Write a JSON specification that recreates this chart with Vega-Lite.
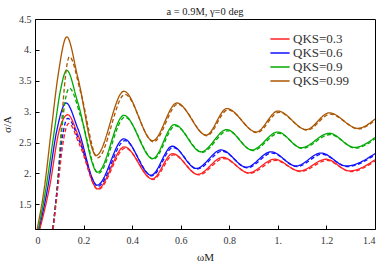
{
  "$schema": "https://vega.github.io/schema/vega-lite/v6.json",
  "width": 340,
  "height": 210,
  "autosize": {"type": "none"},
  "padding": {"left": 35, "top": 19, "right": 7, "bottom": 35},
  "title": {"text": "a = 0.9M, γ=0 deg", "font": "'Liberation Serif', 'Times New Roman', 'DejaVu Serif', serif", "fontSize": 10.5, "fontWeight": "normal", "color": "#222", "offset": -3, "anchor": "middle"},
  "config": {"view": {"stroke": "black", "strokeWidth": 1}, "font": "'Liberation Serif', 'Times New Roman', 'DejaVu Serif', serif"},
  "data": {"values": [
    {"w":0.009,"s":1.1,"q":"0.99","t":"solid"},{"w":0.039,"s":1.78,"q":"0.99","t":"solid"},{"w":0.067,"s":2.70,"q":"0.99","t":"solid"},{"w":0.094,"s":3.56,"q":"0.99","t":"solid"},{"w":0.131,"s":4.21,"q":"0.99","t":"solid"},{"w":0.176,"s":3.56,"q":"0.99","t":"solid"},{"w":0.252,"s":2.29,"q":"0.99","t":"solid"},{"w":0.366,"s":3.33,"q":"0.99","t":"solid"},{"w":0.485,"s":2.53,"q":"0.99","t":"solid"},{"w":0.584,"s":3.14,"q":"0.99","t":"solid"},{"w":0.705,"s":2.62,"q":"0.99","t":"solid"},{"w":0.79,"s":3.05,"q":"0.99","t":"solid"},{"w":0.911,"s":2.67,"q":"0.99","t":"solid"},{"w":1.0,"s":3.01,"q":"0.99","t":"solid"},{"w":1.117,"s":2.71,"q":"0.99","t":"solid"},{"w":1.212,"s":2.98,"q":"0.99","t":"solid"},{"w":1.329,"s":2.73,"q":"0.99","t":"solid"},{"w":1.4,"s":2.88,"q":"0.99","t":"solid"},
    {"w":0.014,"s":1.1,"q":"0.9","t":"solid"},{"w":0.046,"s":1.78,"q":"0.9","t":"solid"},{"w":0.08,"s":2.70,"q":"0.9","t":"solid"},{"w":0.105,"s":3.35,"q":"0.9","t":"solid"},{"w":0.131,"s":3.67,"q":"0.9","t":"solid"},{"w":0.176,"s":3.15,"q":"0.9","t":"solid"},{"w":0.258,"s":2.02,"q":"0.9","t":"solid"},{"w":0.366,"s":2.94,"q":"0.9","t":"solid"},{"w":0.485,"s":2.24,"q":"0.9","t":"solid"},{"w":0.574,"s":2.79,"q":"0.9","t":"solid"},{"w":0.684,"s":2.35,"q":"0.9","t":"solid"},{"w":0.79,"s":2.71,"q":"0.9","t":"solid"},{"w":0.893,"s":2.38,"q":"0.9","t":"solid"},{"w":1.0,"s":2.67,"q":"0.9","t":"solid"},{"w":1.096,"s":2.415,"q":"0.9","t":"solid"},{"w":1.212,"s":2.65,"q":"0.9","t":"solid"},{"w":1.315,"s":2.42,"q":"0.9","t":"solid"},{"w":1.4,"s":2.58,"q":"0.9","t":"solid"},
    {"w":0.018,"s":1.1,"q":"0.6","t":"solid"},{"w":0.053,"s":1.78,"q":"0.6","t":"solid"},{"w":0.09,"s":2.7,"q":"0.6","t":"solid"},{"w":0.128,"s":3.14,"q":"0.6","t":"solid"},{"w":0.176,"s":2.73,"q":"0.6","t":"solid"},{"w":0.256,"s":1.81,"q":"0.6","t":"solid"},{"w":0.366,"s":2.56,"q":"0.6","t":"solid"},{"w":0.478,"s":1.97,"q":"0.6","t":"solid"},{"w":0.565,"s":2.44,"q":"0.6","t":"solid"},{"w":0.664,"s":2.08,"q":"0.6","t":"solid"},{"w":0.767,"s":2.38,"q":"0.6","t":"solid"},{"w":0.87,"s":2.10,"q":"0.6","t":"solid"},{"w":0.972,"s":2.35,"q":"0.6","t":"solid"},{"w":1.075,"s":2.12,"q":"0.6","t":"solid"},{"w":1.178,"s":2.33,"q":"0.6","t":"solid"},{"w":1.281,"s":2.12,"q":"0.6","t":"solid"},{"w":1.4,"s":2.32,"q":"0.6","t":"solid"},
    {"w":0.02,"s":1.1,"q":"0.3","t":"solid"},{"w":0.06,"s":1.78,"q":"0.3","t":"solid"},{"w":0.1,"s":2.7,"q":"0.3","t":"solid"},{"w":0.135,"s":2.95,"q":"0.3","t":"solid"},{"w":0.18,"s":2.59,"q":"0.3","t":"solid"},{"w":0.258,"s":1.75,"q":"0.3","t":"solid"},{"w":0.368,"s":2.43,"q":"0.3","t":"solid"},{"w":0.483,"s":1.91,"q":"0.3","t":"solid"},{"w":0.567,"s":2.32,"q":"0.3","t":"solid"},{"w":0.67,"s":1.985,"q":"0.3","t":"solid"},{"w":0.773,"s":2.26,"q":"0.3","t":"solid"},{"w":0.88,"s":2.01,"q":"0.3","t":"solid"},{"w":0.986,"s":2.23,"q":"0.3","t":"solid"},{"w":1.089,"s":2.04,"q":"0.3","t":"solid"},{"w":1.199,"s":2.23,"q":"0.3","t":"solid"},{"w":1.295,"s":2.04,"q":"0.3","t":"solid"},{"w":1.4,"s":2.22,"q":"0.3","t":"solid"},
    {"w":0.073,"s":1.1,"q":"0.99","t":"dashed"},{"w":0.094,"s":1.89,"q":"0.99","t":"dashed"},{"w":0.108,"s":2.7,"q":"0.99","t":"dashed"},{"w":0.121,"s":3.4,"q":"0.99","t":"dashed"},{"w":0.142,"s":3.89,"q":"0.99","t":"dashed"},{"w":0.19,"s":3.28,"q":"0.99","t":"dashed"},{"w":0.258,"s":2.25,"q":"0.99","t":"dashed"},{"w":0.37,"s":3.28,"q":"0.99","t":"dashed"},{"w":0.488,"s":2.51,"q":"0.99","t":"dashed"},{"w":0.588,"s":3.12,"q":"0.99","t":"dashed"},{"w":0.708,"s":2.61,"q":"0.99","t":"dashed"},{"w":0.794,"s":3.03,"q":"0.99","t":"dashed"},{"w":0.914,"s":2.66,"q":"0.99","t":"dashed"},{"w":1.004,"s":2.99,"q":"0.99","t":"dashed"},{"w":1.12,"s":2.70,"q":"0.99","t":"dashed"},{"w":1.216,"s":2.96,"q":"0.99","t":"dashed"},{"w":1.332,"s":2.72,"q":"0.99","t":"dashed"},{"w":1.4,"s":2.86,"q":"0.99","t":"dashed"},
    {"w":0.073,"s":1.1,"q":"0.9","t":"dashed"},{"w":0.094,"s":1.89,"q":"0.9","t":"dashed"},{"w":0.108,"s":2.6,"q":"0.9","t":"dashed"},{"w":0.122,"s":3.12,"q":"0.9","t":"dashed"},{"w":0.142,"s":3.38,"q":"0.9","t":"dashed"},{"w":0.19,"s":2.9,"q":"0.9","t":"dashed"},{"w":0.261,"s":2.0,"q":"0.9","t":"dashed"},{"w":0.37,"s":2.91,"q":"0.9","t":"dashed"},{"w":0.488,"s":2.23,"q":"0.9","t":"dashed"},{"w":0.578,"s":2.77,"q":"0.9","t":"dashed"},{"w":0.688,"s":2.34,"q":"0.9","t":"dashed"},{"w":0.794,"s":2.69,"q":"0.9","t":"dashed"},{"w":0.897,"s":2.37,"q":"0.9","t":"dashed"},{"w":1.004,"s":2.65,"q":"0.9","t":"dashed"},{"w":1.1,"s":2.405,"q":"0.9","t":"dashed"},{"w":1.216,"s":2.63,"q":"0.9","t":"dashed"},{"w":1.319,"s":2.41,"q":"0.9","t":"dashed"},{"w":1.4,"s":2.56,"q":"0.9","t":"dashed"},
    {"w":0.074,"s":1.1,"q":"0.6","t":"dashed"},{"w":0.094,"s":1.85,"q":"0.6","t":"dashed"},{"w":0.11,"s":2.5,"q":"0.6","t":"dashed"},{"w":0.135,"s":2.89,"q":"0.6","t":"dashed"},{"w":0.185,"s":2.5,"q":"0.6","t":"dashed"},{"w":0.259,"s":1.79,"q":"0.6","t":"dashed"},{"w":0.37,"s":2.53,"q":"0.6","t":"dashed"},{"w":0.481,"s":1.96,"q":"0.6","t":"dashed"},{"w":0.569,"s":2.42,"q":"0.6","t":"dashed"},{"w":0.668,"s":2.07,"q":"0.6","t":"dashed"},{"w":0.771,"s":2.36,"q":"0.6","t":"dashed"},{"w":0.874,"s":2.09,"q":"0.6","t":"dashed"},{"w":0.976,"s":2.33,"q":"0.6","t":"dashed"},{"w":1.079,"s":2.11,"q":"0.6","t":"dashed"},{"w":1.182,"s":2.31,"q":"0.6","t":"dashed"},{"w":1.285,"s":2.11,"q":"0.6","t":"dashed"},{"w":1.4,"s":2.30,"q":"0.6","t":"dashed"},
    {"w":0.075,"s":1.1,"q":"0.3","t":"dashed"},{"w":0.095,"s":1.8,"q":"0.3","t":"dashed"},{"w":0.112,"s":2.4,"q":"0.3","t":"dashed"},{"w":0.139,"s":2.81,"q":"0.3","t":"dashed"},{"w":0.185,"s":2.45,"q":"0.3","t":"dashed"},{"w":0.26,"s":1.74,"q":"0.3","t":"dashed"},{"w":0.372,"s":2.41,"q":"0.3","t":"dashed"},{"w":0.486,"s":1.9,"q":"0.3","t":"dashed"},{"w":0.571,"s":2.30,"q":"0.3","t":"dashed"},{"w":0.674,"s":1.975,"q":"0.3","t":"dashed"},{"w":0.777,"s":2.24,"q":"0.3","t":"dashed"},{"w":0.884,"s":2.0,"q":"0.3","t":"dashed"},{"w":0.99,"s":2.21,"q":"0.3","t":"dashed"},{"w":1.093,"s":2.03,"q":"0.3","t":"dashed"},{"w":1.203,"s":2.21,"q":"0.3","t":"dashed"},{"w":1.299,"s":2.03,"q":"0.3","t":"dashed"},{"w":1.4,"s":2.20,"q":"0.3","t":"dashed"}
  ]},
  "mark": {"type": "line", "interpolate": "monotone", "strokeWidth": 1.3, "clip": true},
  "encoding": {
    "x": {"field": "w", "type": "quantitative", "scale": {"domain": [0, 1.4], "nice": false, "zero": false},
      "axis": {"title": "ωM", "values": [0, 0.2, 0.4, 0.6, 0.8, 1, 1.2, 1.4], "labelExpr": "datum.value == 0 ? '0' : datum.value == 1 ? '1.' : format(datum.value, '.1f')", "grid": false, "domain": false, "tickSize": -4, "tickColor": "black", "labelFont": "'Liberation Serif', 'Times New Roman', 'DejaVu Serif', serif", "labelFontSize": 10, "labelColor": "#333", "labelPadding": 10, "titleFont": "'Liberation Serif', 'Times New Roman', 'DejaVu Serif', serif", "titleFontSize": 11, "titleFontWeight": "normal", "titleColor": "#222", "titlePadding": 6}},
    "y": {"field": "s", "type": "quantitative", "scale": {"domain": [1.1, 4.5], "nice": false, "zero": false},
      "axis": {"title": "σ/A", "values": [1.5, 2, 2.5, 3, 3.5, 4, 4.5], "labelExpr": "datum.value == floor(datum.value) ? datum.value + '.' : format(datum.value, '.1f')", "grid": false, "domain": false, "tickSize": -4, "tickColor": "black", "labelFont": "'Liberation Serif', 'Times New Roman', 'DejaVu Serif', serif", "labelFontSize": 10, "labelColor": "#333", "labelPadding": 8, "titleFont": "'Liberation Serif', 'Times New Roman', 'DejaVu Serif', serif", "titleFontSize": 11, "titleFontWeight": "normal", "titleColor": "#222", "titlePadding": 6}},
    "color": {"field": "q", "type": "nominal", "scale": {"domain": ["0.3", "0.6", "0.9", "0.99"], "range": ["#FF2020", "#1010FF", "#00AA00", "#AA5500"]},
      "legend": {"orient": "none", "legendX": 238, "legendY": 13, "title": null, "labelExpr": "'QKS=' + datum.label", "symbolType": "M-1.6,0H1.6", "symbolSize": 144, "symbolStrokeWidth": 1.5, "labelFont": "'Liberation Serif', 'Times New Roman', 'DejaVu Serif', serif", "labelFontSize": 13, "labelColor": "#333", "labelOffset": 6, "rowPadding": 0}},
    "strokeDash": {"field": "t", "type": "nominal", "scale": {"domain": ["solid", "dashed"], "range": [[1, 0], [4, 2.5]]}, "legend": null}
  }
}
